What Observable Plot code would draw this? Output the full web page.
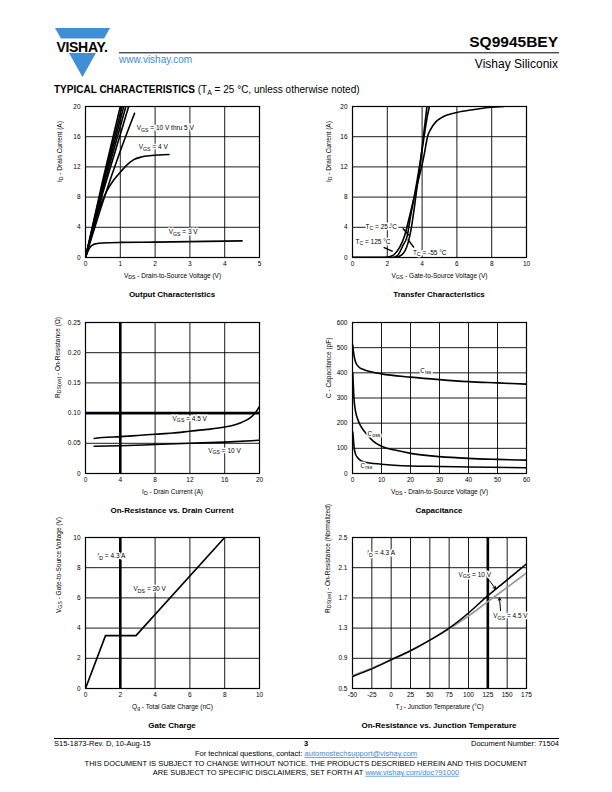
<!DOCTYPE html>
<html><head><meta charset="utf-8">
<script src="https://cdn.jsdelivr.net/npm/d3@7"></script>
<script src="https://cdn.jsdelivr.net/npm/@observablehq/plot@0.6"></script>
<style>
html,body{margin:0;padding:0;background:#fff;}
#page{position:relative;width:612px;height:792px;overflow:hidden;font-family:"Liberation Sans",Arial,sans-serif;}
.chart{position:absolute;}
</style></head><body><div id="page">
<svg id="deco" width="612" height="792" style="position:absolute;left:0;top:0" font-family="Liberation Sans, Arial, sans-serif">
  <polygon points="55,28 110,28 82.5,77" fill="#3f8fd6"/>
  <rect x="48" y="38.5" width="70" height="14.5" fill="#fff"/>
  <text x="82" y="51.6" text-anchor="middle" font-weight="bold" font-size="14" letter-spacing="-0.3">VISHAY.</text>
  <line x1="119" x2="559" y1="52.8" y2="52.8" stroke="#000" stroke-width="1"/>
  <text x="558" y="46.5" text-anchor="end" font-weight="bold" font-size="15.5">SQ9945BEY</text>
  <text x="558" y="68" text-anchor="end" font-size="12">Vishay Siliconix</text>
  <text x="119" y="62.5" font-size="10" fill="#3d8ad0">www.vishay.com</text>
  <text x="54" y="93.3" font-size="10"><tspan font-weight="bold">TYPICAL CHARACTERISTICS</tspan> (T<tspan font-size="7" dy="2">A</tspan><tspan dy="-2"> = 25 °C, unless otherwise noted)</tspan></text>
  <g font-weight="bold" font-size="8" text-anchor="middle">
    <text x="172" y="297">Output Characteristics</text>
    <text x="439" y="297">Transfer Characteristics</text>
    <text x="172" y="513">On-Resistance vs. Drain Current</text>
    <text x="439" y="513">Capacitance</text>
    <text x="172" y="728">Gate Charge</text>
    <text x="439" y="728">On-Resistance vs. Junction Temperature</text>
  </g>
  <line x1="54" x2="559" y1="738.5" y2="738.5" stroke="#000" stroke-width="1"/>
  <g font-size="7.5">
    <text x="54" y="745.8">S15-1873-Rev. D, 10-Aug-15</text>
    <text x="306" y="745.8" font-weight="bold" text-anchor="middle">3</text>
    <text x="559" y="745.8" text-anchor="end">Document Number: 71504</text>
    <text x="306" y="756.3" text-anchor="middle">For technical questions, contact: <tspan fill="#3d8ad0" text-decoration="underline">automostechsupport@vishay.com</tspan></text>
    <text x="306" y="766" text-anchor="middle">THIS DOCUMENT IS SUBJECT TO CHANGE WITHOUT NOTICE. THE PRODUCTS DESCRIBED HEREIN AND THIS DOCUMENT</text>
    <text x="306" y="774.8" text-anchor="middle">ARE SUBJECT TO SPECIFIC DISCLAIMERS, SET FORTH AT <tspan fill="#3d8ad0" text-decoration="underline">www.vishay.com/doc?91000</tspan></text>
  </g>
</svg>
</div>
<script>
// ---------- DATA ----------
// Output characteristics (VDS, ID)
const outXTicks = [0, 1, 2, 3, 4, 5];
const outYTicks = [0, 4, 8, 12, 16, 20];
const out10V = [[0,0],[0.5,10.3],[1.00,20]];
const out9V  = [[0,0],[0.5,9.9],[1.05,20]];
const out8V  = [[0,0],[0.5,9.5],[1.10,20]];
const out7V  = [[0,0],[0.5,9.1],[1.16,20]];
const out6V  = [[0,0],[0.5,8.6],[1.24,20]];
const out5V  = [[0,0],[0.5,7.4],[1.0,14.1],[1.41,19.1]];
const out4V  = [[0,0],[0.2,3.5],[0.43,6.9],[0.6,8.7],[0.8,10.2],[1.0,11.3],[1.2,12.3],[1.4,13.0],[1.6,13.3],[1.9,13.5],[2.4,13.65]];
const out3V  = [[0,0],[0.05,0.6],[0.1,1.1],[0.15,1.45],[0.2,1.65],[0.3,1.82],[0.5,1.93],[1,2.0],[2,2.04],[3,2.1],[4,2.17],[4.5,2.2]];
const outLabels = [
  {x: 1.47, y: 17.2, t: "V_{GS} = 10 V thru 5 V"},
  {x: 1.53, y: 14.6, t: "V_{GS} = 4 V"},
  {x: 2.39, y: 3.35, t: "V_{GS} = 3 V"}
];

// Transfer characteristics (VGS, ID)
const trXTicks = [0, 2, 4, 6, 8, 10];
const trYTicks = [0, 4, 8, 12, 16, 20];
const tc125 = [[0,0],[1.8,0],[2.1,0.1],[2.4,0.4],[2.7,1.3],[3.0,2.9],[3.2,4.7],[3.4,6.6],[3.6,8.5],[3.8,10.4],[4.0,12.3],[4.15,14.0],[4.3,15.9],[4.5,17.0],[4.8,18.0],[5.1,18.5],[6,19.2],[7,19.6],[8,19.9],[8.7,20]];
const tc25  = [[0,0],[2.3,0],[2.6,0.3],[2.9,1.6],[3.15,2.9],[3.3,5.0],[3.5,7.5],[3.7,10.0],[3.9,12.8],[4.1,15.8],[4.3,18.7],[4.42,20]];
const tcM55 = [[0,0],[2.5,0],[2.8,0.3],[3.0,0.8],[3.2,2.0],[3.4,4.2],[3.6,7.4],[3.75,10],[3.95,13.5],[4.1,16.5],[4.28,20]];
const trLabels = [
  {x: 0.75, y: 4.1, t: "T_{C} = 25 °C"},
  {x: 0.17, y: 2.13, t: "T_{C} = 125 °C"},
  {x: 3.47, y: 0.67, t: "T_{C} = -55 °C"}
];
const trLeaders = [
  {x1: 2.89, y1: 3.87, x2: 3.24, y2: 2.93},
  {x1: 1.79, y1: 1.33, x2: 2.31, y2: 0.8},
  {x1: 3.53, y1: 1.33, x2: 3.18, y2: 2.4}
];

// On-resistance vs drain current (ID, RDS(on))
const rdXTicks = [0, 4, 8, 12, 16, 20];
const rdYTicks = [0, 0.05, 0.10, 0.15, 0.20, 0.25];
const rds45 = [[1,0.058],[2,0.0595],[4,0.061],[6,0.063],[8,0.065],[10,0.067],[12,0.070],[14,0.073],[16,0.077],[17,0.080],[18,0.085],[19,0.093],[19.5,0.100],[20,0.111]];
const rds10 = [[1,0.045],[4,0.046],[8,0.048],[12,0.050],[16,0.052],[20,0.055]];
const rdLabels = [
  {x: 10.0, y: 0.091, t: "V_{GS} = 4.5 V"},
  {x: 14.1, y: 0.038, t: "V_{GS} = 10 V"}
];

// Capacitance (VDS, pF)
const capXTicks = [0, 10, 20, 30, 40, 50, 60];
const capYTicks = [0, 100, 200, 300, 400, 500, 600];
const ciss = [[0.1,510],[0.5,470],[1,445],[2,425],[4,412],[6,405],[10,396],[20,383],[30,373],[40,365],[50,360],[60,355]];
const coss = [[0.1,400],[0.5,300],[1,250],[2,210],[3,185],[5,155],[7,130],[10,108],[15,92],[20,80],[30,67],[40,60],[50,56],[60,53]];
const crss = [[0.1,165],[0.5,110],[1,78],[2,60],[4,46],[10,37],[20,30],[30,28],[40,26],[60,23]];
const capLabels = [
  {x: 23.4, y: 409, t: "C_{iss}"},
  {x: 5.2, y: 159, t: "C_{oss}"},
  {x: 2.8, y: 32, t: "C_{rss}"}
];

// Gate charge (Qg, VGS)
const gcXTicks = [0, 2, 4, 6, 8, 10];
const gcYTicks = [0, 2, 4, 6, 8, 10];
const gate = [[0,0],[1.15,3.5],[2.9,3.5],[8,10]];
const gcLabels = [
  {x: 0.69, y: 8.8, t: "I_{D} = 4.3 A"},
  {x: 2.76, y: 6.6, t: "V_{DS} = 30 V"}
];

// On-resistance vs junction temperature (TJ, normalized)
const tjXTicks = [-50, -25, 0, 25, 50, 75, 100, 125, 150, 175];
const tjYTicks = [0.5, 0.9, 1.3, 1.7, 2.1, 2.5];
const rdsT10 = [[-50,0.66],[-25,0.76],[0,0.88],[25,1.0],[50,1.14],[75,1.30],[100,1.50],[125,1.73],[150,1.94],[175,2.15]];
const rdsT45 = [[-50,0.67],[-25,0.77],[0,0.88],[25,1.0],[50,1.14],[75,1.29],[100,1.46],[125,1.65],[150,1.84],[175,2.03]];
const tjLabels = [
  {x: -31, y: 2.3, t: "I_{D} = 4.3 A"},
  {x: 87, y: 2.01, t: "V_{GS} = 10 V"},
  {x: 132, y: 1.455, t: "V_{GS} = 4.5 V"}
];
const tjArrows = [
  {x1: 127, y1: 1.93, x2: 135, y2: 1.82},
  {x1: 141.5, y1: 1.53, x2: 140, y2: 1.70}
];

// ---------- DRAWING ----------
const FONT = '"Liberation Sans", Arial, sans-serif';
const page = document.getElementById("page");

function subscriptify(root) {
  root.querySelectorAll("text").forEach(t => {
    const s = t.textContent;
    if (!s.includes("_{")) return;
    const fs = parseFloat(getComputedStyle(t).fontSize) || 6.5;
    const shift = (fs * 0.28).toFixed(2);
    while (t.firstChild) t.removeChild(t.firstChild);
    const re = /_\{([^}]*)\}/g;
    let last = 0, m, shifted = false;
    const ns = "http://www.w3.org/2000/svg";
    const add = (txt, opts) => {
      const sp = document.createElementNS(ns, "tspan");
      sp.textContent = txt;
      for (const k in opts) sp.setAttribute(k, opts[k]);
      t.appendChild(sp);
    };
    while ((m = re.exec(s))) {
      const before = s.slice(last, m.index);
      if (before) { add(before, shifted ? {dy: -shift} : {}); shifted = false; }
      add(m[1], {dy: shifted ? 0 : shift, "font-size": (fs * 0.8).toFixed(2) + "px"});
      shifted = true;
      last = re.lastIndex;
    }
    const rest = s.slice(last);
    if (rest) add(rest, shifted ? {dy: -shift} : {});
  });
}

const L = (data, o = {}) => Plot.line(data, {x: d => d[0], y: d => d[1], stroke: "#000", strokeWidth: 1.6, curve: "monotone-x", clip: true, ...o});
const T = (data) => Plot.text(data, {x: "x", y: "y", text: "t", textAnchor: "start", fontSize: 6.5, fill: "#000", stroke: "#fff", strokeWidth: 3, paintOrder: "stroke"});

function chart({fx, fy, xDomain, yDomain, xTicks, yTicks, xFmt = String, yFmt = String, xLabel, yLabel, yLabelDx = -26, thickX = [], thickY = [], marks}) {
  const ML = 45, MR = 12, MT = 8, MB = 30, W = 174, H = 151;
  const p = Plot.plot({
    width: ML + W + MR, height: MT + H + MB,
    marginLeft: ML, marginRight: MR, marginTop: MT, marginBottom: MB,
    style: {fontFamily: FONT, fontSize: "6.5px", background: "transparent", overflow: "visible", color: "#000"},
    x: {domain: xDomain},
    y: {domain: yDomain},
    marks: [
      Plot.gridX(xTicks, {stroke: "#000", strokeOpacity: 1, strokeWidth: 0.9}),
      Plot.gridY(yTicks, {stroke: "#000", strokeOpacity: 1, strokeWidth: 0.9}),
      Plot.ruleX(thickX, {stroke: "#000", strokeWidth: 2.6}),
      Plot.ruleY(thickY, {stroke: "#000", strokeWidth: 2.6}),
      Plot.frame({stroke: "#000", strokeWidth: 1.2}),
      Plot.axisX(xTicks, {tickSize: 0, tickPadding: 4, tickFormat: xFmt, label: null}),
      Plot.axisY(yTicks, {tickSize: 0, tickPadding: 5, tickFormat: yFmt, label: null}),
      Plot.text([xLabel], {frameAnchor: "bottom", text: d => d, dy: 20, fontSize: 6.5}),
      Plot.text([yLabel], {frameAnchor: "left", text: d => d, rotate: -90, dx: yLabelDx, fontSize: 6.5}),
      ...marks
    ]
  });
  const div = document.createElement("div");
  div.className = "chart";
  div.style.left = (fx - ML) + "px";
  div.style.top = (fy - MT) + "px";
  div.appendChild(p);
  page.appendChild(div);
  subscriptify(p);
}

const colL = 85, colR = 352, row1 = 106, row2 = 322, row3 = 537;

chart({fx: colL, fy: row1, xDomain: [0, 5], yDomain: [0, 20], xTicks: outXTicks, yTicks: outYTicks,
  xLabel: "V_{DS} - Drain-to-Source Voltage (V)", yLabel: "I_{D} - Drain Current (A)", yLabelDx: -26,
  marks: [L(out10V, {curve: "linear"}), L(out9V, {curve: "linear"}), L(out8V, {curve: "linear"}), L(out7V, {curve: "linear"}), L(out6V, {curve: "linear"}), L(out5V), L(out4V), L(out3V), T(outLabels)]});

chart({fx: colR, fy: row1, xDomain: [0, 10], yDomain: [0, 20], xTicks: trXTicks, yTicks: trYTicks,
  xLabel: "V_{GS} - Gate-to-Source Voltage (V)", yLabel: "I_{D} - Drain Current (A)", yLabelDx: -24,
  marks: [L(tc125), L(tc25), L(tcM55), T(trLabels),
    Plot.link(trLeaders, {x1: "x1", y1: "y1", x2: "x2", y2: "y2", stroke: "#000", strokeWidth: 1.4})]});

chart({fx: colL, fy: row2, xDomain: [0, 20], yDomain: [0, 0.25], xTicks: rdXTicks, yTicks: rdYTicks,
  yFmt: d => d === 0 ? "0" : d.toFixed(2), thickX: [4], thickY: [0.10],
  xLabel: "I_{D} - Drain Current (A)", yLabel: "R_{DS(on)} - On-Resistance (Ω)", yLabelDx: -28,
  marks: [L(rds45), L(rds10), T(rdLabels)]});

chart({fx: colR, fy: row2, xDomain: [0, 60], yDomain: [0, 600], xTicks: capXTicks, yTicks: capYTicks,
  xLabel: "V_{DS} - Drain-to-Source Voltage (V)", yLabel: "C - Capacitance (pF)", yLabelDx: -24,
  marks: [L(ciss), L(coss), L(crss), T(capLabels)]});

chart({fx: colL, fy: row3, xDomain: [0, 10], yDomain: [0, 10], xTicks: gcXTicks, yTicks: gcYTicks, thickX: [2],
  xLabel: "Q_{g} - Total Gate Charge (nC)", yLabel: "V_{GS} - Gate-to-Source Voltage (V)", yLabelDx: -27,
  marks: [L(gate, {curve: "linear"}), T(gcLabels)]});

chart({fx: colR, fy: row3, xDomain: [-50, 175], yDomain: [0.5, 2.5], xTicks: tjXTicks, yTicks: tjYTicks,
  yFmt: d => d.toFixed(1), thickX: [125],
  xLabel: "T_{J} - Junction Temperature (°C)", yLabel: "R_{DS(on)} - On-Resistance (Normalized)", yLabelDx: -25,
  marks: [L(rdsT45, {stroke: "#999"}), L(rdsT10), T(tjLabels),
    Plot.arrow(tjArrows, {x1: "x1", y1: "y1", x2: "x2", y2: "y2", stroke: "#000", strokeWidth: 1, headLength: 4})]});
</script>
</body></html>
